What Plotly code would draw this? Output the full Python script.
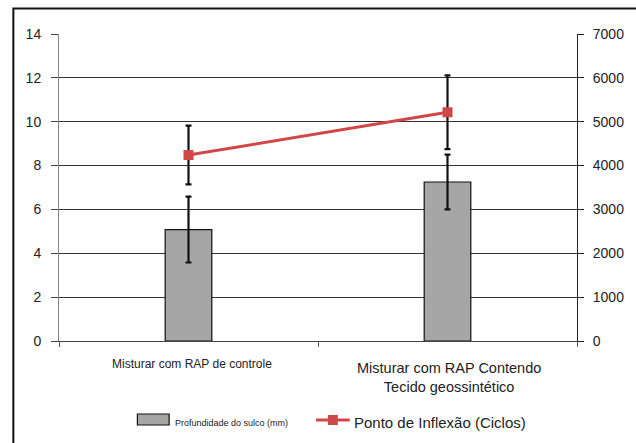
import plotly.graph_objects as go

categories = ["Misturar com RAP de controle",
              "Misturar com RAP Contendo Tecido geossintético"]
cat_labels = ["Misturar com RAP de controle",
              "Misturar com RAP Contendo<br>Tecido geossintético"]
depth_mm = [5.08, 7.25]
depth_err = [1.5, 1.25]
inflection_cycles = [4240, 5215]
inflection_err = [670, 840]
left_ticks = [0, 2, 4, 6, 8, 10, 12, 14]
right_ticks = [0, 1000, 2000, 3000, 4000, 5000, 6000, 7000]
legend_names = ["Profundidade do sulco (mm)", "Ponto de Inflexão (Ciclos)"]

RED = "#D0474A"
FONT = "Liberation Sans, Arial, sans-serif"

fig = go.Figure()
fig.add_trace(go.Bar(
    x=categories, y=depth_mm, name=legend_names[0],
    marker=dict(color="#A6A6A6", line=dict(color="#111111", width=1.2)),
    error_y=dict(type="data", array=depth_err, color="#111111", thickness=2.2, width=3),
    width=0.18, showlegend=False,
))
fig.add_trace(go.Scatter(
    x=categories, y=inflection_cycles, name=legend_names[1], yaxis="y2",
    mode="lines+markers",
    line=dict(color=RED, width=3),
    marker=dict(symbol="square", size=10, color=RED),
    error_y=dict(type="data", array=inflection_err, color="#111111", thickness=2.2, width=3),
    showlegend=False,
))

# category labels
fig.add_annotation(x=categories[0], y=0, yref="paper", text=cat_labels[0],
                   showarrow=False, yanchor="top", yshift=-14, xshift=3,
                   font=dict(family=FONT, size=12, color="#222"))
fig.add_annotation(x=categories[1], y=0, yref="paper", text=cat_labels[1],
                   showarrow=False, yanchor="top", yshift=-17, xshift=1,
                   font=dict(family=FONT, size=14.5, color="#222"))

# custom legend
L, R, T, B = 59, 581, 34, 341
def px(xp):
    return (xp - L) / (R - L)
def py(yp):
    return (B - yp) / (B - T)

fig.add_shape(type="rect", xref="paper", yref="paper",
              x0=px(138), x1=px(170), y0=py(425), y1=py(414),
              fillcolor="#A6A6A6", line=dict(color="#111111", width=1.2))
fig.add_annotation(xref="paper", yref="paper", x=px(174), y=py(421),
                   text=legend_names[0], showarrow=False, xanchor="left",
                   yshift=-9,
                   font=dict(family=FONT, size=9, color="#222"))
fig.add_shape(type="line", xref="paper", yref="paper",
              x0=px(318), x1=px(352), y0=py(420), y1=py(420),
              line=dict(color=RED, width=3))
fig.add_shape(type="rect", xref="paper", yref="paper",
              x0=px(330), x1=px(340), y0=py(425), y1=py(415),
              fillcolor=RED, line=dict(color=RED, width=0))
fig.add_annotation(xref="paper", yref="paper", x=px(354), y=py(421),
                   text=legend_names[1], showarrow=False, xanchor="left",
                   yshift=-12,
                   font=dict(family=FONT, size=15, color="#222"))

# outer frame (partially cut off)
fig.add_shape(type="rect", xref="paper", yref="paper",
              x0=px(13), x1=px(660), y0=py(470), y1=py(8.5),
              line=dict(color="#111111", width=2), fillcolor="rgba(0,0,0,0)")

fig.update_layout(
    width=636, height=443,
    margin=dict(l=L, r=636 - R, t=T, b=443 - B),
    paper_bgcolor="white", plot_bgcolor="white",
    font=dict(family=FONT, size=14, color="#222"),
    bargap=0.82,
    xaxis=dict(type="category", showticklabels=False, ticks="outside",
               tickson="boundaries", ticklen=5, tickcolor="#555",
               showline=True, linecolor="#444", linewidth=1,
               showgrid=False, range=[-0.5, 1.5]),
    yaxis=dict(range=[0, 14], tickvals=left_ticks, ticks="outside",
               ticklen=7, tickcolor="#444", showline=True, linecolor="#888",
               linewidth=1, showgrid=True, gridcolor="#333", gridwidth=1.2,
               zeroline=False, ticklabelstandoff=7,
               tickfont=dict(size=14, color="#222")),
    yaxis2=dict(range=[0, 7000], tickvals=right_ticks, overlaying="y",
                side="right", ticks="outside", ticklen=6, tickcolor="#222",
                showline=True, linecolor="#222", linewidth=1,
                showgrid=False, zeroline=False, ticklabelstandoff=6,
                tickfont=dict(size=14, color="#222")),
)

fig.write_html("out.html")
